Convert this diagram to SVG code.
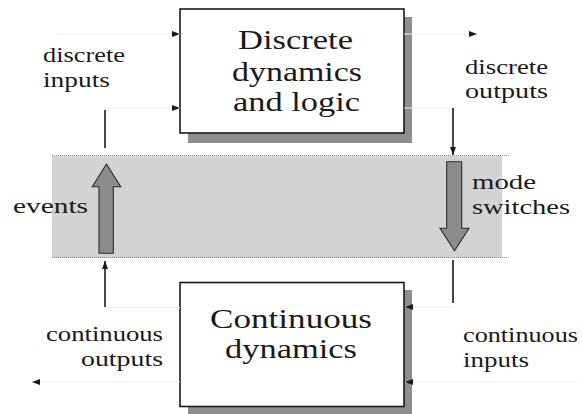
<svg xmlns="http://www.w3.org/2000/svg" width="582" height="414" viewBox="0 0 582 414">
  <style>
    .title { font-family: 'Liberation Serif', 'DejaVu Serif', serif; font-size: 28px; fill: #1a1a1a; }
    .title.small { font-size: 27px; }
    .label { font-family: 'Liberation Serif', 'DejaVu Serif', serif; font-size: 21.5px; fill: #1a1a1a; }
    .box { fill: #ffffff; stroke: #1a1a1a; stroke-width: 1.6; }
    .shadow { fill: #8e8e8e; }
    .faint { stroke: #ededed; stroke-width: 1; fill: none; }
    .wire { stroke: #1a1a1a; stroke-width: 1.6; fill: none; }
    .fat { fill: #8c8c8c; stroke: #2a2a2a; stroke-width: 1.1; stroke-linejoin: miter; }
    .edge { stroke: #8a8a8a; stroke-width: 1; stroke-dasharray: 1 1; fill: none; }
  </style>
  <defs>
    <marker id="head" viewBox="0 0 8 6" refX="8" refY="3" markerWidth="8" markerHeight="6" markerUnits="userSpaceOnUse" orient="auto">
      <path d="M0,0 L8,3 L0,6 Z" fill="#1a1a1a"/>
    </marker>
  </defs>

  <!-- interface band between the discrete and continuous layers -->
  <g id="interface">
    <rect x="52" y="156" width="450" height="102" fill="#d3d3d3"/>
    <line class="edge" x1="52" y1="155.5" x2="508" y2="155.5"/>
    <line class="edge" x1="52" y1="257.5" x2="508" y2="257.5"/>
  </g>

  <!-- upper node -->
  <g id="discrete-dynamics">
    <rect class="shadow" x="188" y="17" width="224" height="126"/>
    <rect class="box" x="180" y="9" width="224" height="124"/>
    <text class="title" x="295.5" y="49" text-anchor="middle" textLength="115" lengthAdjust="spacingAndGlyphs">Discrete</text>
    <text class="title" x="297" y="81" text-anchor="middle" textLength="130" lengthAdjust="spacingAndGlyphs">dynamics</text>
    <text class="title" x="296.5" y="111" text-anchor="middle" textLength="127" lengthAdjust="spacingAndGlyphs">and logic</text>
  </g>

  <!-- lower node -->
  <g id="continuous-dynamics">
    <rect class="shadow" x="188" y="290" width="224" height="126"/>
    <rect class="box" x="180" y="282.5" width="224" height="124"/>
    <text class="title small" x="291" y="328" text-anchor="middle" textLength="162" lengthAdjust="spacingAndGlyphs">Continuous</text>
    <text class="title small" x="291" y="357.5" text-anchor="middle" textLength="132" lengthAdjust="spacingAndGlyphs">dynamics</text>
  </g>

  <!-- connectors -->
  <g id="connectors">
    <!-- discrete inputs -->
    <line class="faint" x1="57" y1="34" x2="180" y2="34" marker-end="url(#head)"/>
    <line class="faint" x1="105" y1="108" x2="180" y2="108" marker-end="url(#head)"/>
    <line class="wire" x1="105" y1="110" x2="105" y2="148"/>
    <!-- discrete outputs -->
    <line class="faint" x1="404" y1="34" x2="477" y2="34" marker-end="url(#head)"/>
    <line class="faint" x1="404" y1="108" x2="453" y2="108"/>
    <line class="wire" x1="453" y1="108" x2="453" y2="155" marker-end="url(#head)"/>
    <!-- continuous inputs -->
    <line class="wire" x1="453" y1="260" x2="453" y2="303"/>
    <line class="faint" x1="453" y1="307" x2="405" y2="307" marker-end="url(#head)"/>
    <line class="faint" x1="577" y1="382" x2="405" y2="382" marker-end="url(#head)"/>
    <!-- continuous outputs -->
    <line class="faint" x1="180" y1="307.5" x2="105" y2="307.5"/>
    <line class="wire" x1="105" y1="307" x2="105" y2="261" marker-end="url(#head)"/>
    <line class="faint" x1="180" y1="382" x2="32" y2="382" marker-end="url(#head)"/>
    <!-- events (up) -->
    <polygon class="fat" points="106.5,164 120.7,186.7 113.3,186.7 113.3,253.3 99,253.3 99,186.7 92.3,186.7"/>
    <!-- mode switches (down) -->
    <polygon class="fat" points="446.7,161.7 461.7,161.7 461.7,228.3 469,228.3 454.5,250.7 440,228.3 446.7,228.3"/>
  </g>

  <!-- connector labels -->
  <g id="labels">
    <text class="label" x="43" y="62" textLength="82" lengthAdjust="spacingAndGlyphs">discrete</text>
    <text class="label" x="43" y="87" textLength="67" lengthAdjust="spacingAndGlyphs">inputs</text>
    <text class="label" x="465" y="73.5" textLength="83" lengthAdjust="spacingAndGlyphs">discrete</text>
    <text class="label" x="465" y="97.5" textLength="83" lengthAdjust="spacingAndGlyphs">outputs</text>
    <text class="label" x="13" y="213" textLength="75" lengthAdjust="spacingAndGlyphs">events</text>
    <text class="label" x="472" y="188.5" textLength="64" lengthAdjust="spacingAndGlyphs">mode</text>
    <text class="label" x="472" y="214" textLength="98" lengthAdjust="spacingAndGlyphs">switches</text>
    <text class="label" x="46" y="341" textLength="117" lengthAdjust="spacingAndGlyphs">continuous</text>
    <text class="label" x="81" y="366" textLength="82" lengthAdjust="spacingAndGlyphs">outputs</text>
    <text class="label" x="463" y="341.5" textLength="115" lengthAdjust="spacingAndGlyphs">continuous</text>
    <text class="label" x="463" y="366.5" textLength="66" lengthAdjust="spacingAndGlyphs">inputs</text>
  </g>
</svg>
